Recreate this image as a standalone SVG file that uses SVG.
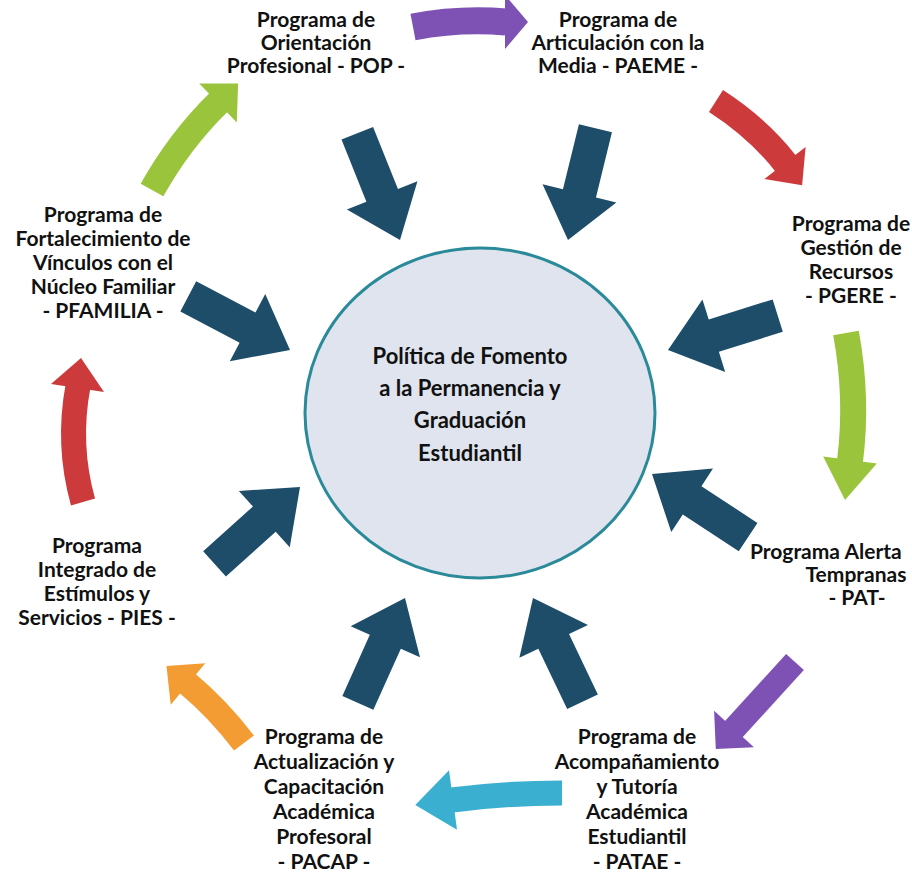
<svg xmlns="http://www.w3.org/2000/svg" xmlns:xlink="http://www.w3.org/1999/xlink" width="912" height="873" viewBox="0 0 912 873">
<style>
.lbl{font-family:Lato,"Liberation Sans",sans-serif;font-weight:bold;font-size:21px;fill:#111;text-anchor:middle}
.ctr{font-family:Lato,"Liberation Sans",sans-serif;font-weight:bold;font-size:22px;fill:#111;text-anchor:middle}
.dark{fill:#1e4d6a}
.shaft{fill:none;stroke-linecap:butt}
</style>
<defs>
<polygon id="darr" points="-115,-17 -48,-17 -48,-38 0,0 -48,38 -48,17 -115,17"/>
</defs>
<rect width="912" height="873" fill="#ffffff"/>
<g id="center">
<ellipse cx="480" cy="413" rx="175" ry="165" fill="#dfe4ee" stroke="#2b8a99" stroke-width="3"/>
<text class="ctr" x="470" y="364">Política de Fomento</text>
<text class="ctr" x="470" y="396">a la Permanencia y</text>
<text class="ctr" x="470" y="428">Graduación</text>
<text class="ctr" x="470" y="461">Estudiantil</text>
</g>
<g id="connectors">
<g class="dark">
<use xlink:href="#darr" transform="translate(400,240) rotate(68.2)"/>
<use xlink:href="#darr" transform="translate(568,240) rotate(103.8)"/>
<use xlink:href="#darr" transform="translate(668,350) rotate(162.6)"/>
<use xlink:href="#darr" transform="translate(652,474) rotate(-146.7)"/>
<use xlink:href="#darr" transform="translate(533,598) rotate(-115.5)"/>
<use xlink:href="#darr" transform="translate(405,598) rotate(-65.8)"/>
<use xlink:href="#darr" transform="translate(300,487) rotate(-42)"/>
<use xlink:href="#darr" transform="translate(290,350) rotate(27.8)"/>
</g>
<path class="shaft" d="M413,27 Q460,18 506,22" stroke="#7e52b4" stroke-width="27"/>
<polygon points="505,-5 528,22 505,49" fill="#7e52b4"/>
<path class="shaft" d="M716,101 Q758,128 786,164" stroke="#cc3a3b" stroke-width="26"/>
<polygon points="805.6,147.1 802.1,185.2 764.4,178.9" fill="#cc3a3b"/>
<path class="shaft" d="M846,333 Q858,398 850,461" stroke="#9ac43c" stroke-width="26"/>
<polygon points="876.8,463.5 845,500 823.2,456.5" fill="#9ac43c"/>
<path class="shaft" d="M795,662 Q766,694 733,730" stroke="#7e52b4" stroke-width="24"/>
<polygon points="753.9,747.2 715.8,748.9 714.1,710.8" fill="#7e52b4"/>
<path class="shaft" d="M562,793 Q505,793 452,800" stroke="#3bafd0" stroke-width="25"/>
<polygon points="457,829.7 415.3,805.1 449,770.3" fill="#3bafd0"/>
<path class="shaft" d="M244,743 Q218,709 187,683" stroke="#f39c33" stroke-width="25"/>
<polygon points="170.7,704.7 166.5,666.1 205.3,663.3" fill="#f39c33"/>
<path class="shaft" d="M83,502 Q67,445 78,386" stroke="#cc3a3b" stroke-width="25"/>
<polygon points="104,392 81,358 51,384" fill="#cc3a3b"/>
<path class="shaft" d="M152,190 Q180,140 219,102" stroke="#9ac43c" stroke-width="26"/>
<polygon points="236.8,122.4 238.1,83.5 199.2,83.6" fill="#9ac43c"/>
</g>
<g id="pop">
<text class="lbl" x="316" y="27">Programa de</text>
<text class="lbl" x="316" y="50">Orientación</text>
<text class="lbl" x="316" y="73">Profesional - POP -</text>
</g>
<g id="paeme">
<text class="lbl" x="618" y="27">Programa de</text>
<text class="lbl" x="618" y="50">Articulación con la</text>
<text class="lbl" x="618" y="73">Media - PAEME -</text>
</g>
<g id="pgere">
<text class="lbl" x="851" y="231">Programa de</text>
<text class="lbl" x="851" y="255">Gestión de</text>
<text class="lbl" x="851" y="279">Recursos</text>
<text class="lbl" x="851" y="303">- PGERE -</text>
</g>
<g id="pat">
<text class="lbl" x="750" y="559" style="text-anchor:start">Programa Alerta</text>
<text class="lbl" x="856" y="582">Tempranas</text>
<text class="lbl" x="857" y="605">- PAT-</text>
</g>
<g id="patae">
<text class="lbl" x="637" y="744">Programa de</text>
<text class="lbl" x="637" y="769">Acompañamiento</text>
<text class="lbl" x="637" y="794">y Tutoría</text>
<text class="lbl" x="637" y="819">Académica</text>
<text class="lbl" x="637" y="844">Estudiantil</text>
<text class="lbl" x="637" y="869">- PATAE -</text>
</g>
<g id="pacap">
<text class="lbl" x="324" y="744">Programa de</text>
<text class="lbl" x="324" y="769">Actualización y</text>
<text class="lbl" x="324" y="794">Capacitación</text>
<text class="lbl" x="324" y="819">Académica</text>
<text class="lbl" x="324" y="844">Profesoral</text>
<text class="lbl" x="324" y="869">- PACAP -</text>
</g>
<g id="pies">
<text class="lbl" x="97" y="553">Programa</text>
<text class="lbl" x="97" y="577">Integrado de</text>
<text class="lbl" x="97" y="601">Estímulos y</text>
<text class="lbl" x="97" y="625">Servicios - PIES -</text>
</g>
<g id="pfamilia">
<text class="lbl" x="103" y="222">Programa de</text>
<text class="lbl" x="103" y="246">Fortalecimiento de</text>
<text class="lbl" x="103" y="270">Vínculos con el</text>
<text class="lbl" x="103" y="294">Núcleo Familiar</text>
<text class="lbl" x="103" y="318">- PFAMILIA -</text>
</g>
</svg>
